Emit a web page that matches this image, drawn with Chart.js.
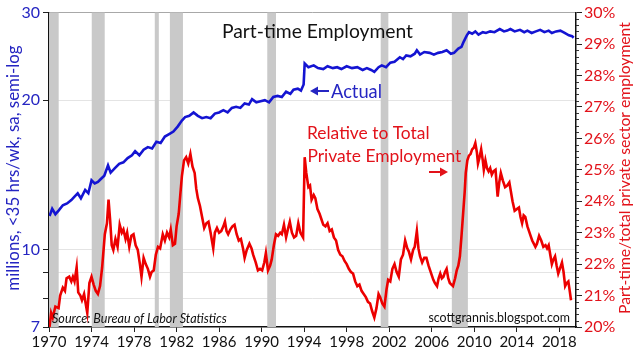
<!DOCTYPE html>
<html><head><meta charset="utf-8">
<script src="https://cdn.jsdelivr.net/npm/chart.js@4.4.1/dist/chart.umd.min.js"></script>
<style>html,body{margin:0;padding:0;background:#fff;}</style>
</head><body>
<canvas id="c" width="640" height="357"></canvas>
<script>
// ---------- DATA ----------
const xTickYears = [1970,1974,1978,1982,1986,1990,1994,1998,2002,2006,2010,2014,2018];
const leftTickValues = [7,8,9,10,20,30];
const leftTickLabels = ['7','','','10','20','30'];
const rightTickValues = [20,21,22,23,24,25,26,27,28,29,30];

const recessionStart = [1969.95,1974.02,1979.95,1981.37,1990.53,2001.2,2007.89];
const recessionEnd   = [1970.91,1975.24,1980.33,1982.6,1991.35,2001.92,2009.4];

// Part-time employment, millions (left, log)
const actualYears = [1970.05,1970.3,1970.6,1970.9,1971.3,1971.7,1972.1,1972.4,1972.7,1973.0,1973.4,1973.7,1974.0,1974.3,1974.6,1974.9,1975.2,1975.55,1975.8,1976.2,1976.6,1977.0,1977.4,1977.8,1978.1,1978.5,1978.9,1979.3,1979.7,1980.1,1980.5,1980.9,1981.3,1981.7,1982.1,1982.5,1982.8,1983.2,1983.6,1984.0,1984.4,1984.8,1985.2,1985.6,1986.0,1986.4,1986.8,1987.2,1987.6,1988.0,1988.4,1988.8,1989.1,1989.5,1989.9,1990.3,1990.7,1991.1,1991.5,1991.9,1992.3,1992.7,1993.0,1993.4,1993.7,1993.95,1994.05,1994.4,1994.9,1995.3,1995.8,1996.2,1996.7,1997.1,1997.5,1998.0,1998.5,1999.0,1999.5,1999.9,2000.3,2000.6,2001.0,2001.3,2001.7,2002.1,2002.5,2003.0,2003.3,2003.6,2004.0,2004.4,2004.6,2004.9,2005.3,2005.8,2006.2,2006.6,2007.0,2007.4,2007.8,2008.1,2008.5,2008.8,2009.0,2009.3,2009.5,2009.8,2010.1,2010.4,2010.8,2011.1,2011.5,2011.9,2012.4,2012.8,2013.1,2013.4,2013.8,2014.3,2014.7,2015.0,2015.4,2015.8,2016.2,2016.6,2017.0,2017.3,2017.7,2018.1,2018.5,2018.9,2019.2,2019.35];
const actualValues = [11.7,12.1,11.8,12.0,12.3,12.4,12.6,12.8,13.0,12.7,13.2,13.0,13.8,13.6,13.7,13.9,14.1,14.8,14.3,14.6,14.9,15.0,15.3,15.5,15.8,15.5,15.9,16.1,16.0,16.5,16.4,16.9,17.1,17.3,17.7,18.2,18.5,18.6,18.9,18.6,18.4,18.5,18.4,18.8,18.9,19.1,18.9,19.3,19.4,19.3,19.7,19.6,20.1,19.8,19.9,20.0,19.8,20.3,20.4,20.3,20.8,20.6,21.0,21.1,20.9,21.5,23.7,23.3,23.5,23.2,23.1,23.4,23.2,23.3,23.1,23.4,23.2,23.3,23.0,23.2,23.0,22.8,23.3,23.5,23.3,23.8,23.9,24.4,24.2,24.6,24.5,24.8,25.2,24.7,25.0,24.9,24.7,24.9,25.0,25.2,24.8,24.9,25.4,25.6,26.2,27.0,27.4,27.2,27.5,27.1,27.4,27.3,27.5,27.4,27.8,27.5,27.6,27.8,27.5,27.7,27.4,27.6,27.3,27.5,27.7,27.4,27.6,27.3,27.5,27.6,27.3,27.0,26.9,26.7];

// Part-time / total private employment, % (right)
const ratioYears = [1970.05,1970.2,1970.35,1970.6,1970.9,1971.05,1971.3,1971.5,1971.65,1971.9,1972.1,1972.25,1972.4,1972.6,1972.75,1972.95,1973.1,1973.3,1973.45,1973.6,1973.8,1974.0,1974.2,1974.4,1974.6,1974.8,1975.0,1975.25,1975.45,1975.6,1975.75,1975.9,1976.05,1976.25,1976.45,1976.65,1976.85,1977.0,1977.2,1977.35,1977.55,1977.75,1977.95,1978.15,1978.35,1978.55,1978.7,1978.9,1979.1,1979.3,1979.5,1979.65,1979.85,1980.05,1980.25,1980.45,1980.7,1980.9,1981.1,1981.3,1981.45,1981.65,1981.85,1982.0,1982.2,1982.35,1982.5,1982.7,1982.9,1983.1,1983.3,1983.5,1983.7,1983.85,1984.0,1984.2,1984.4,1984.6,1984.8,1985.0,1985.2,1985.45,1985.6,1985.8,1986.0,1986.2,1986.4,1986.55,1986.7,1986.85,1987.05,1987.25,1987.45,1987.65,1987.85,1988.05,1988.25,1988.4,1988.6,1988.85,1989.05,1989.2,1989.45,1989.65,1989.85,1990.05,1990.25,1990.4,1990.6,1990.8,1990.95,1991.15,1991.35,1991.55,1991.75,1991.9,1992.1,1992.3,1992.5,1992.65,1992.85,1993.05,1993.25,1993.45,1993.65,1993.9,1994.05,1994.2,1994.4,1994.55,1994.7,1994.9,1995.05,1995.25,1995.45,1995.6,1995.8,1996.0,1996.2,1996.4,1996.6,1996.8,1997.0,1997.2,1997.4,1997.6,1997.8,1998.0,1998.2,1998.4,1998.6,1998.8,1999.0,1999.2,1999.4,1999.6,1999.8,2000.0,2000.2,2000.4,2000.6,2000.8,2001.0,2001.15,2001.35,2001.55,2001.75,2001.9,2002.1,2002.3,2002.5,2002.7,2002.9,2003.1,2003.3,2003.5,2003.7,2003.85,2004.05,2004.25,2004.4,2004.6,2004.75,2004.9,2005.1,2005.3,2005.5,2005.7,2005.85,2006.0,2006.15,2006.3,2006.5,2006.65,2006.8,2006.95,2007.1,2007.25,2007.4,2007.55,2007.7,2007.85,2008.0,2008.2,2008.35,2008.5,2008.65,2008.8,2008.95,2009.1,2009.2,2009.35,2009.5,2009.65,2009.8,2009.95,2010.1,2010.25,2010.35,2010.5,2010.65,2010.8,2010.9,2011.05,2011.2,2011.35,2011.5,2011.65,2011.8,2012.0,2012.2,2012.35,2012.5,2012.7,2012.9,2013.1,2013.3,2013.45,2013.6,2013.8,2014.0,2014.2,2014.35,2014.5,2014.65,2014.8,2015.0,2015.15,2015.3,2015.45,2015.6,2015.75,2015.9,2016.1,2016.3,2016.5,2016.7,2016.85,2017.0,2017.15,2017.3,2017.45,2017.6,2017.75,2017.9,2018.05,2018.25,2018.4,2018.55,2018.7,2018.85,2019.0,2019.1];
const ratioValues = [20.0,20.45,20.3,20.65,20.6,21.0,21.25,21.15,21.55,21.6,21.45,21.6,21.45,21.9,21.1,21.0,20.85,21.05,20.75,20.45,21.4,21.6,21.35,21.15,21.05,21.3,21.9,22.95,23.3,24.05,23.4,22.6,22.45,22.8,22.55,23.25,23.0,23.1,22.8,23.0,22.55,22.9,22.95,22.6,22.45,22.0,21.6,22.2,22.0,21.85,21.6,21.75,21.8,22.3,22.55,22.5,22.95,22.75,23.0,22.85,23.1,22.6,22.65,23.2,23.6,24.2,24.8,25.3,25.4,25.2,25.5,25.1,24.9,24.4,24.1,23.85,23.5,23.15,23.3,23.35,23.0,22.5,23.0,23.15,23.0,23.05,23.2,23.35,23.05,22.95,23.1,23.2,23.25,22.95,22.75,22.8,22.5,22.2,22.45,22.65,22.5,22.3,22.05,21.8,21.85,21.8,22.05,22.35,21.8,21.95,22.15,22.6,22.95,22.9,23.0,22.95,23.25,22.85,23.15,23.35,23.0,22.85,22.9,23.3,23.0,22.85,25.4,24.9,24.45,24.5,24.05,24.2,24.1,23.75,23.6,23.45,23.25,23.2,23.3,23.05,23.1,22.85,22.75,22.45,22.3,22.25,22.1,22.0,21.85,21.75,21.7,21.45,21.3,21.35,21.15,21.05,20.95,20.8,20.75,20.5,20.3,20.6,21.05,20.95,20.75,20.65,21.2,21.5,21.45,21.85,22.0,21.75,21.6,22.15,22.3,22.75,22.5,22.4,22.15,22.45,22.55,23.05,22.5,22.25,22.05,22.2,22.2,21.95,21.8,21.65,21.5,21.4,21.3,21.55,21.7,21.55,21.6,21.75,21.85,21.55,21.4,21.35,21.3,21.55,21.8,21.95,22.25,22.9,23.6,24.3,24.9,25.3,25.45,25.5,25.65,25.7,25.85,25.55,25.2,25.4,25.65,25.3,25.0,25.3,25.05,24.95,25.05,24.85,24.95,25.0,24.15,24.6,24.9,24.65,24.45,24.5,24.6,24.3,24.0,23.7,23.75,23.8,23.5,23.3,23.55,23.5,23.2,23.05,22.9,22.75,22.65,22.55,22.65,22.9,22.75,22.55,22.6,22.5,22.6,22.3,22.0,22.15,22.25,21.95,21.7,21.85,22.05,21.75,21.3,21.4,21.45,21.1,20.85];

// ---------- STYLE ----------
const FONT = 'Lato, "DejaVu Sans", sans-serif';
const BLUE = '#1414d2', BLUE_TXT = '#2525c2';
const RED = '#ec0000', RED_TXT = '#e2121a';

function fitFont(ctx, text, width, style) {
  ctx.font = style + ' 20px ' + FONT;
  const w = ctx.measureText(text).width;
  return (20 * width / w);
}

function drawArrow(ctx, x0, x1, y, color) {
  // text-like arrow annotation drawn as a short stroke with head
  ctx.save();
  ctx.strokeStyle = color; ctx.fillStyle = color; ctx.lineWidth = 2;
  ctx.beginPath(); ctx.moveTo(x0, y); ctx.lineTo(x1, y); ctx.stroke();
  const dir = Math.sign(x1 - x0);
  ctx.beginPath();
  ctx.moveTo(x1 + dir * 2, y); ctx.lineTo(x1 - dir * 6, y - 4.5); ctx.lineTo(x1 - dir * 6, y + 4.5);
  ctx.closePath(); ctx.fill();
  ctx.restore();
}

const extras = {
  id: 'extras',
  beforeDatasetsDraw(chart) {
    const {ctx, chartArea: a, scales: {x}} = chart;
    ctx.save();
    ctx.fillStyle = '#c9c9c9';
    for (let i = 0; i < recessionStart.length; i++) {
      const x0 = Math.max(a.left, x.getPixelForValue(recessionStart[i]));
      const x1 = x.getPixelForValue(recessionEnd[i]);
      ctx.fillRect(x0, a.top, x1 - x0, a.bottom - a.top);
    }
    ctx.restore();
  },
  afterDraw(chart) {
    const {ctx, chartArea: a, scales: {x, yL, yR}} = chart;
    ctx.save();
    // minor ticks on right axis
    ctx.strokeStyle = '#333';
    ctx.lineWidth = 1;
    for (let i = 0; i <= 50; i++) {
      if (i % 5 === 0) continue;
      const v = 20 + i * 0.2;
      const py = Math.round(yR.getPixelForValue(v)) + 0.5;
      ctx.beginPath(); ctx.moveTo(a.right, py); ctx.lineTo(a.right + 3, py); ctx.stroke();
    }
    // title
    ctx.fillStyle = '#111';
    ctx.textBaseline = 'alphabetic';
    ctx.textAlign = 'left';
    let s = fitFont(ctx, 'Part-time Employment', 191, 'normal');
    ctx.font = s.toFixed(1) + 'px ' + FONT;
    ctx.fillText('Part-time Employment', 222, 37.5);
    // Actual label
    ctx.fillStyle = BLUE_TXT;
    const sa = fitFont(ctx, 'Actual', 51, 'normal');
    ctx.font = sa.toFixed(1) + 'px ' + FONT;
    ctx.fillText('Actual', 331, 97.5);
    drawArrow(ctx, 329, 312, 91, BLUE_TXT);
    // Relative label
    ctx.fillStyle = RED_TXT;
    const s2 = fitFont(ctx, 'Private Employment', 154, 'normal');
    ctx.font = s2.toFixed(1) + 'px ' + FONT;
    ctx.fillText('Relative to Total', 307, 138.5);
    ctx.fillText('Private Employment', 307.5, 162);
    drawArrow(ctx, 429, 446, 172, RED_TXT);
    // source
    ctx.fillStyle = '#111';
    const s3 = fitFont(ctx, 'Source: Bureau of Labor Statistics', 175, 'italic');
    ctx.font = 'italic ' + s3.toFixed(1) + 'px ' + FONT;
    ctx.fillText('Source: Bureau of Labor Statistics', 52, 322.5);
    const s4 = fitFont(ctx, 'scottgrannis.blogspot.com', 142, 'normal');
    ctx.font = s4.toFixed(1) + 'px ' + FONT;
    ctx.textAlign = 'right';
    ctx.fillText('scottgrannis.blogspot.com', 570, 321.5);
    // left axis title
    ctx.textAlign = 'center';
    ctx.textBaseline = 'middle';
    const t1 = 'millions, <35 hrs/wk, sa, semi-log';
    const s5 = fitFont(ctx, t1, 245, 'normal');
    ctx.font = s5.toFixed(1) + 'px ' + FONT;
    ctx.fillStyle = BLUE_TXT;
    ctx.translate(14, 168); ctx.rotate(-Math.PI / 2);
    ctx.fillText(t1, 0, 0);
    ctx.setTransform(1, 0, 0, 1, 0, 0);
    const t2 = 'Part-time/total private sector employment';
    const s6 = fitFont(ctx, t2, 292, 'normal');
    ctx.font = s6.toFixed(1) + 'px ' + FONT;
    ctx.fillStyle = RED_TXT;
    ctx.translate(625, 168); ctx.rotate(-Math.PI / 2);
    ctx.fillText(t2, 0, 0);
    ctx.restore();
  }
};

const ctx = document.getElementById('c').getContext('2d');
new Chart(ctx, {
  type: 'line',
  data: {
    datasets: [
      { label: 'Actual', data: actualYears.map((yr, i) => ({x: yr, y: actualValues[i]})),
        yAxisID: 'yL', borderColor: BLUE, borderWidth: 2.6, pointRadius: 0, tension: 0 },
      { label: 'Relative', data: ratioYears.map((yr, i) => ({x: yr, y: ratioValues[i]})),
        yAxisID: 'yR', borderColor: RED, borderWidth: 2.6, pointRadius: 0, tension: 0 }
    ]
  },
  options: {
    responsive: false, animation: false, devicePixelRatio: 1,
    layout: { padding: { top: 12, left: 0, right: 0, bottom: 0 } },
    plugins: { legend: { display: false }, tooltip: { enabled: false } },
    scales: {
      x: {
        type: 'linear', position: 'bottom', min: 1970, max: 2019.57,
        afterBuildTicks: s => { s.ticks = xTickYears.map(v => ({value: v})); },
        afterFit: s => { s.height = 30; },
        ticks: { color: '#111', font: { family: FONT, size: 15 }, maxRotation: 0, autoSkip: false, padding: 1,
                 callback: v => String(v) },
        grid: { drawOnChartArea: false, tickLength: 5, tickColor: '#222' },
        border: { color: '#111', width: 1.5 }
      },
      yL: {
        type: 'logarithmic', position: 'left', min: 7, max: 30,
        afterBuildTicks: s => { s.ticks = leftTickValues.map(v => ({value: v})); },
        afterFit: s => { s.width = 49; },
        ticks: { color: BLUE_TXT, font: { family: FONT, size: 16 }, padding: 3,
                 callback: (v) => { const i = leftTickValues.indexOf(v); return i >= 0 ? leftTickLabels[i] : ''; } },
        grid: {
          color: c => { const v = c.tick && c.tick.value; if (v === 30) return '#a8a8a8'; if (v === 7) return 'rgba(0,0,0,0)'; return '#e4e4e4'; },
          tickColor: '#222', tickLength: 6, lineWidth: 1
        },
        border: { color: '#111', width: 1.5 }
      },
      yR: {
        type: 'linear', position: 'right', min: 20, max: 30,
        afterBuildTicks: s => { s.ticks = rightTickValues.map(v => ({value: v})); },
        afterFit: s => { s.width = 64; },
        ticks: { color: RED_TXT, font: { family: FONT, size: 16 }, padding: 2, callback: v => v + '%' },
        grid: { drawOnChartArea: false, tickLength: 6, tickColor: '#222' },
        border: { color: '#111', width: 1.5 }
      }
    }
  },
  plugins: [extras]
});
</script>
</body></html>
